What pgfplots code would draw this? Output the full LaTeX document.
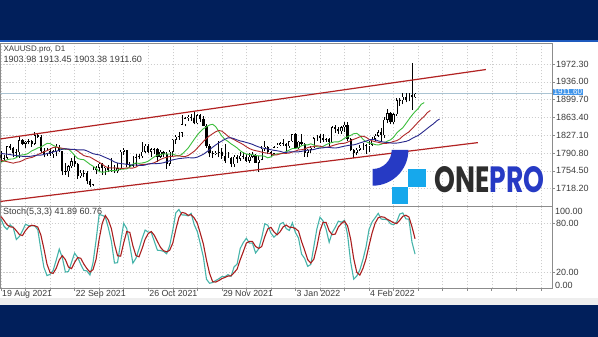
\documentclass[border=0pt]{standalone}
\usepackage{fontspec}
\setmainfont{Liberation Sans}
\newfontfamily\logofont{Poppins}
\usepackage{graphicx}
\usepackage{pgfplots}
\usepackage{pgfplotstable}
\pgfplotsset{compat=1.18}
\definecolor{navy}{RGB}{1,31,91}
\definecolor{topblue}{RGB}{30,90,190}
\definecolor{bandgray}{RGB}{238,238,238}
\definecolor{axisgray}{RGB}{140,140,140}
\definecolor{gridgray}{RGB}{205,205,205}
\definecolor{labelgray}{RGB}{60,60,60}
\definecolor{pricegray}{RGB}{170,195,210}
\definecolor{chanred}{RGB}{178,34,34}
\definecolor{magreen}{RGB}{60,190,60}
\definecolor{mared}{RGB}{175,40,40}
\definecolor{mablue}{RGB}{40,40,140}
\definecolor{stk}{RGB}{70,180,170}
\definecolor{std}{RGB}{170,30,30}
\definecolor{logoblue}{RGB}{38,58,196}
\definecolor{logolight}{RGB}{22,168,236}
\definecolor{logodark}{RGB}{45,45,45}
\definecolor{lblblue}{RGB}{66,150,235}

\pgfplotstableread{
i o h l c
0 1787 1795 1773 1780
1 1780 1786 1774 1781
2 1781 1806 1779 1805
3 1805 1809 1797 1802
4 1802 1803 1782 1790
5 1790 1799 1780 1792
6 1792 1823 1781 1817
7 1817 1820 1807 1810
8 1810 1816 1800 1814
9 1814 1820 1809 1815
10 1815 1817 1804 1810
11 1810 1834 1808 1827
12 1827 1830 1821 1823
13 1823 1827 1791 1794
14 1794 1801 1782 1789
15 1789 1800 1785 1795
16 1795 1800 1785 1788
17 1788 1796 1781 1794
18 1794 1809 1784 1804
19 1804 1808 1792 1794
20 1794 1795 1745 1754
21 1754 1770 1746 1754
22 1754 1767 1742 1764
23 1764 1781 1760 1774
24 1774 1787 1763 1768
25 1768 1771 1737 1743
26 1743 1757 1740 1750
27 1750 1756 1741 1751
28 1751 1754 1727 1734
29 1734 1738 1721 1726
30 1726 1765 1723 1757
31 1757 1765 1747 1761
32 1761 1770 1753 1769
33 1769 1770 1746 1760
34 1760 1765 1746 1763
35 1763 1766 1752 1756
36 1756 1781 1753 1757
37 1757 1766 1750 1754
38 1754 1770 1750 1760
39 1760 1796 1757 1793
40 1793 1800 1787 1797
41 1797 1797 1762 1767
42 1767 1772 1760 1765
43 1765 1785 1763 1769
44 1769 1788 1765 1782
45 1782 1789 1778 1784
46 1784 1813 1781 1793
47 1793 1810 1791 1806
48 1806 1810 1790 1793
49 1793 1801 1783 1798
50 1798 1802 1789 1799
51 1799 1801 1772 1783
52 1783 1797 1781 1793
53 1793 1795 1783 1788
54 1788 1792 1759 1769
55 1769 1797 1764 1793
56 1793 1819 1783 1818
57 1818 1828 1810 1824
58 1824 1834 1818 1832
59 1832 1868 1823 1849
60 1849 1865 1845 1862
61 1862 1868 1856 1865
62 1865 1870 1857 1863
63 1863 1877 1849 1851
64 1851 1870 1850 1868
65 1868 1870 1855 1860
66 1860 1866 1845 1846
67 1846 1849 1802 1805
68 1805 1810 1782 1790
69 1790 1795 1781 1788
70 1788 1795 1786 1791
71 1791 1815 1782 1792
72 1792 1800 1779 1785
73 1785 1809 1770 1774
74 1774 1793 1774 1781
75 1781 1783 1762 1768
76 1768 1787 1762 1783
77 1783 1787 1770 1779
78 1779 1793 1775 1785
79 1785 1793 1778 1783
80 1783 1789 1772 1775
81 1775 1791 1771 1783
82 1783 1792 1780 1787
83 1787 1789 1771 1771
84 1771 1784 1753 1777
85 1777 1805 1776 1799
86 1799 1815 1795 1804
87 1804 1806 1788 1792
88 1792 1794 1782 1789
89 1789 1806 1786 1803
90 1803 1812 1801 1808
91 1808 1814 1805 1811
92 1811 1820 1806 1810
93 1810 1811 1789 1805
94 1805 1816 1801 1815
95 1815 1830 1813 1829
96 1829 1831 1798 1801
97 1801 1815 1799 1814
98 1814 1829 1807 1810
99 1810 1812 1783 1791
100 1791 1798 1782 1797
101 1797 1805 1791 1801
102 1801 1823 1800 1821
103 1821 1828 1816 1826
104 1826 1829 1812 1821
105 1821 1830 1813 1817
106 1817 1822 1813 1819
107 1819 1821 1805 1813
108 1813 1845 1811 1843
109 1843 1847 1832 1839
110 1839 1843 1830 1835
111 1835 1845 1830 1843
112 1843 1853 1834 1848
113 1848 1853 1815 1820
114 1820 1822 1794 1797
115 1797 1798 1780 1791
116 1791 1802 1786 1797
117 1797 1807 1795 1801
118 1801 1812 1797 1808
119 1808 1810 1789 1805
120 1805 1816 1792 1808
121 1808 1823 1806 1820
122 1820 1829 1816 1826
123 1826 1837 1823 1833
124 1833 1841 1814 1827
125 1827 1865 1822 1859
126 1859 1880 1851 1872
127 1872 1874 1849 1854
128 1854 1873 1850 1870
129 1870 1902 1867 1898
130 1898 1902 1887 1898
131 1898 1913 1890 1906
132 1906 1914 1894 1898
133 1898 1913 1896 1910
134 1910 1974 1878 1904
135 1903.98 1913.45 1903.38 1911.6
}\candles

\begin{document}
\begin{tikzpicture}
\useasboundingbox (0pt,0pt) rectangle (598pt,337pt);
\fill[navy] (0pt,0pt) rectangle (598pt,337pt);
\fill[white] (0pt,32pt) rectangle (598pt,295pt);
\fill[bandgray] (0pt,32pt) rectangle (598pt,39pt);
\fill[topblue] (0pt,294.5pt) rectangle (598pt,296.5pt);

% ---------------- price panel ----------------
\begin{axis}[
  at={(0.5pt,130.5pt)}, anchor=south west, scale only axis,
  width=551.5pt, height=163pt,
  xmin=-0.16, xmax=179.65, ymin=1681.7, ymax=2014.1,
  axis line style={draw=axisgray, line width=0.6pt},
  xtick={0,8,...,176}, xticklabels={}, xtick style={draw=none},
  ytick={1718.2,1754.5,1790.8,1827.1,1863.4,1899.7,1936.0,1972.3},
  ytick pos=right, yticklabel pos=right, tick align=outside,
  ytick style={draw=axisgray, line width=0.5pt}, major tick length=2.5pt,
  yticklabel style={font=\fontsize{9}{10}\selectfont, text=labelgray, inner sep=1.5pt},
  scaled y ticks=false,
  yticklabel={\pgfmathprintnumber[fixed,fixed zerofill,precision=2,1000 sep={},assume math mode=true]{\tick}},
  grid=major, major grid style={gridgray, dash pattern=on 1.5pt off 1.5pt, line width=0.4pt},
]
\addplot[pricegray, line width=0.9pt, forget plot] coordinates {(-0.16,1911.6) (179.65,1911.6)};
% wicks
\addplot[draw=none, forget plot, error bars/.cd, y dir=plus, y explicit, error mark=none,
  error bar style={draw=black, line width=0.7pt}]
  table[x=i, y=l, y error plus expr={\thisrow{h}-\thisrow{l}}] {\candles};
% bodies
\addplot[draw=none, forget plot, error bars/.cd, y dir=plus, y explicit, error mark=none,
  error bar style={draw=black, line width=2.2pt}]
  table[x=i, y expr={min(\thisrow{o},\thisrow{c})}, y error plus expr={max(abs(\thisrow{c}-\thisrow{o}),1)}] {\candles};
% hollow (bullish) interiors
\addplot[draw=none, forget plot, error bars/.cd, y dir=plus, y explicit, error mark=none,
  error bar style={draw=white, line width=1.1pt}]
  table[x=i, y expr={\thisrow{o}+1}, y error plus expr={max(\thisrow{c}-\thisrow{o}-2,0)}] {\candles};
% Alligator lips (green)
\addplot[magreen, line width=0.9pt] coordinates {
(0,1772) (1,1774.5) (2,1777) (3,1778.4) (4,1778.7) (5,1781.5) (6,1785.8) (7,1787.1) (8,1787.6) (9,1790.5) (10,1795.1) (11,1797.7) (12,1801.1) (13,1803.0) (14,1806.6) (15,1810.4) (16,1810.1) (17,1806.4) (18,1803.6) (19,1801.4) (20,1798.8) (21,1798.3) (22,1798.6) (23,1792.9) (24,1785.9) (25,1779.6) (26,1777.8) (27,1777.2) (28,1772.6) (29,1767.8) (30,1763.9) (31,1759.2) (32,1753.3) (33,1751.4) (34,1752.3) (35,1754.1) (36,1754.9) (37,1755.0) (38,1755.8) (39,1758.0) (40,1758.0) (41,1758.4) (42,1762.0) (43,1768.3) (44,1770.5) (45,1769.6) (46,1770.5) (47,1771.7) (48,1774.1) (49,1778.6) (50,1783.0) (51,1786.4) (52,1787.5) (53,1789.1) (54,1788.6) (55,1788.7) (56,1788.7) (57,1786.1) (58,1785.0) (59,1788.2) (60,1794.3) (61,1800.7) (62,1809.6) (63,1818.7) (64,1827.4) (65,1834.6) (66,1840.3) (67,1844.2) (68,1847.9) (69,1849.4) (70,1844.6) (71,1834.9) (72,1825.5) (73,1818.5) (74,1814.5) (75,1809.5) (76,1805.5) (77,1801.1) (78,1795.4) (79,1791.2) (80,1788.7) (81,1787.7) (82,1787.3) (83,1785.9) (84,1784.9) (85,1785.1) (86,1784.1) (87,1781.0) (88,1782.9) (89,1787.3) (90,1789.3) (91,1789.0) (92,1790.4) (93,1793.6) (94,1796.8) (95,1800.0) (96,1800.0) (97,1801.7) (98,1805.7) (99,1807.4) (100,1807.3) (101,1809.5) (102,1807.1) (103,1803.7) (104,1802.5) (105,1804.3) (106,1807.8) (107,1810.4) (108,1812.6) (109,1813.6) (110,1813.5) (111,1816.4) (112,1821.0) (113,1824.1) (114,1826.8) (115,1830.1) (116,1830.9) (117,1826.3) (118,1818.9) (119,1813.9) (120,1811.3) (121,1810.0) (122,1807.9) (123,1807.1) (124,1808.6) (125,1811.4) (126,1815.1) (127,1817.6) (128,1822.8) (129,1831.3) (130,1837.3) (131,1842.2) (132,1850.7) (133,1859.4) (134,1867.8) (135,1875.1) (136,1881.0) (137,1890.0) (138,1893.7)};
% Alligator teeth (red)
\addplot[mared, line width=0.9pt] coordinates {
(0,1776) (1,1774.5) (2,1773) (3,1771.5) (4,1770) (5,1771.8) (6,1772.8) (7,1775.3) (8,1778.7) (9,1780.4) (10,1781.6) (11,1784.1) (12,1787.8) (13,1790.3) (14,1793.3) (15,1795.5) (16,1798.7) (17,1802.0) (18,1802.9) (19,1801.5) (20,1800.4) (21,1799.4) (22,1798.0) (23,1797.8) (24,1798.1) (25,1794.6) (26,1790.0) (27,1785.6) (28,1783.7) (29,1782.6) (30,1779.0) (31,1775.2) (32,1771.9) (33,1768.0) (34,1763.2) (35,1760.8) (36,1760.2) (37,1760.4) (38,1760.1) (39,1759.5) (40,1759.4) (41,1760.4) (42,1760.1) (43,1760.1) (44,1762.1) (45,1766.0) (46,1767.7) (47,1767.5) (48,1768.3) (49,1769.3) (50,1771.1) (51,1774.3) (52,1777.6) (53,1780.4) (54,1781.9) (55,1783.6) (56,1784.0) (57,1784.6) (58,1785.1) (59,1783.9) (60,1783.5) (61,1785.7) (62,1789.9) (63,1794.4) (64,1800.8) (65,1807.6) (66,1814.4) (67,1820.5) (68,1825.8) (69,1830.1) (70,1834.1) (71,1836.8) (72,1835.4) (73,1830.5) (74,1825.2) (75,1820.9) (76,1818.1) (77,1814.5) (78,1811.4) (79,1807.9) (80,1803.5) (81,1799.9) (82,1797.2) (83,1795.6) (84,1794.3) (85,1792.6) (86,1791.1) (87,1790.5) (88,1789.2) (89,1786.6) (90,1787.1) (91,1789.3) (92,1790.3) (93,1790.0) (94,1790.8) (95,1792.7) (96,1794.8) (97,1797.1) (98,1797.5) (99,1798.9) (100,1801.7) (101,1803.3) (102,1803.8) (103,1805.6) (104,1804.6) (105,1802.8) (106,1802.2) (107,1803.4) (108,1805.7) (109,1807.5) (110,1809.3) (111,1810.3) (112,1810.6) (113,1812.8) (114,1816.1) (115,1818.7) (116,1821.0) (117,1823.8) (118,1825.1) (119,1823.0) (120,1818.7) (121,1815.6) (122,1813.8) (123,1812.6) (124,1811.0) (125,1810.1) (126,1810.7) (127,1812.2) (128,1814.4) (129,1816.0) (130,1819.4) (131,1825.2) (132,1829.7) (133,1833.7) (134,1840.1) (135,1846.9) (136,1853.7) (137,1860.0) (138,1865.6) (139,1873.1) (140,1877.5)};
% Alligator jaw (blue)
\addplot[mablue, line width=0.9pt] coordinates {
(0,1790) (1,1789) (2,1788.5) (3,1787.5) (4,1786.5) (5,1785.5) (6,1784.8) (7,1784) (8,1784.0) (9,1783.7) (10,1784.4) (11,1785.8) (12,1786.3) (13,1786.5) (14,1787.7) (15,1789.7) (16,1791.1) (17,1792.9) (18,1794.3) (19,1796.3) (20,1798.6) (21,1799.4) (22,1798.8) (23,1798.3) (24,1797.9) (25,1797.2) (26,1797.1) (27,1797.3) (28,1795.2) (29,1792.3) (30,1789.4) (31,1788.0) (32,1787.0) (33,1784.5) (34,1781.7) (35,1779.1) (36,1776.1) (37,1772.5) (38,1770.3) (39,1769.2) (40,1768.6) (41,1767.8) (42,1766.9) (43,1766.3) (44,1766.4) (45,1765.7) (46,1765.3) (47,1766.2) (48,1768.3) (49,1769.1) (50,1768.9) (51,1769.3) (52,1769.8) (53,1770.9) (54,1772.9) (55,1775.0) (56,1776.9) (57,1778.1) (58,1779.4) (59,1780.0) (60,1780.7) (61,1781.3) (62,1780.9) (63,1780.9) (64,1782.4) (65,1785.2) (66,1788.3) (67,1792.7) (68,1797.5) (69,1802.5) (70,1807.2) (71,1811.5) (72,1815.2) (73,1818.8) (74,1821.6) (75,1821.9) (76,1819.9) (77,1817.5) (78,1815.4) (79,1814.1) (80,1812.2) (81,1810.5) (82,1808.4) (83,1805.6) (84,1803.2) (85,1801.3) (86,1800.0) (87,1798.9) (88,1797.5) (89,1796.2) (90,1795.4) (91,1794.2) (92,1792.2) (93,1792.1) (94,1793.1) (95,1793.4) (96,1793.0) (97,1793.2) (98,1794.2) (99,1795.4) (100,1796.8) (101,1797.0) (102,1797.9) (103,1799.7) (104,1800.8) (105,1801.3) (106,1802.6) (107,1802.2) (108,1801.3) (109,1801.0) (110,1801.8) (111,1803.4) (112,1804.7) (113,1806.0) (114,1806.9) (115,1807.4) (116,1809.0) (117,1811.3) (118,1813.2) (119,1815.1) (120,1817.3) (121,1818.6) (122,1817.8) (123,1815.6) (124,1813.9) (125,1812.9) (126,1812.3) (127,1811.3) (128,1810.7) (129,1811.0) (130,1811.9) (131,1813.3) (132,1814.4) (133,1816.6) (134,1820.4) (135,1823.6) (136,1826.5) (137,1831.0) (138,1835.9) (139,1840.9) (140,1845.8) (141,1850.3) (142,1856.1) (143,1860.1)};
% channel
\addplot[chanred, line width=1.2pt] coordinates {(-0.16,1819.5) (158.1,1961)};
\addplot[chanred, line width=1.2pt] coordinates {(-0.16,1692) (155.5,1812)};
\coordinate (lbl) at (axis cs:179.65,1911.6);
\end{axis}
\node[fill=lblblue, text=white, font=\fontsize{8}{9}\selectfont, anchor=west, inner xsep=1.2pt, inner ysep=0.2pt] at ([xshift=0.3pt,yshift=1.6pt]lbl) {1911.60};

% ---------------- stochastic panel ----------------
\begin{axis}[
  at={(0.5pt,48.7pt)}, anchor=south west, scale only axis,
  width=551.5pt, height=81.6pt,
  xmin=-0.16, xmax=179.65, ymin=0, ymax=100,
  axis line style={draw=axisgray, line width=0.6pt},
  xtick={0,8,...,176},
  xticklabels={19 Aug 2021,,,22 Sep 2021,,,26 Oct 2021,,,29 Nov 2021,,,3 Jan 2022,,,4 Feb 2022,,,,,,,},
  xtick pos=left, ytick pos=right, yticklabel pos=right, tick align=outside,
  major tick length=2.5pt,
  tick style={draw=axisgray, line width=0.5pt},
  xticklabel style={anchor=north west, font=\fontsize{8.8}{10}\selectfont, text=labelgray, inner sep=1pt, yshift=1.5pt},
  ytick={20,80},
  yticklabel style={font=\fontsize{9}{10}\selectfont, text=labelgray, inner sep=1.5pt},
  yticklabel={\pgfmathprintnumber[fixed,fixed zerofill,precision=2,assume math mode=true]{\tick}},
  grid=major, major grid style={gridgray, dash pattern=on 1.5pt off 1.5pt, line width=0.4pt},
]
\addplot[stk, line width=1.1pt] coordinates {
(0,85) (1,76) (2,72.2) (3,77.8) (4,74.3) (5,59.8) (6,63.5) (7,70.5) (8,78.5) (9,76.7) (10,76.6) (11,76.5) (12,71.8) (13,47.7) (14,25.6) (15,15.6) (16,17.1) (17,21.9) (18,34.4) (19,48.0) (20,37.5) (21,19.9) (22,20.5) (23,32.0) (24,43.0) (25,37.9) (26,29.4) (27,22.0) (28,21.3) (29,16.3) (30,31.2) (31,58.7) (32,90.5) (33,89.4) (34,87.6) (35,74.2) (36,57.5) (37,30.9) (38,31.4) (39,56.0) (40,79.4) (41,73.3) (42,52.7) (43,30.8) (44,36.8) (45,48.3) (46,60.8) (47,71.4) (48,68.9) (49,68.4) (50,57.4) (51,46.7) (52,46.3) (53,45.3) (54,42.3) (55,52.2) (56,71.0) (57,92.4) (58,96.6) (59,89.9) (60,89.8) (61,88.7) (62,91.8) (63,78.0) (64,69.6) (65,54.4) (66,38.0) (67,11.1) (68,6.2) (69,7.1) (70,9.5) (71,11.6) (72,14.3) (73,14.1) (74,16.7) (75,14.7) (76,26.2) (77,29.9) (78,48.8) (79,56.0) (80,61.3) (81,55.3) (82,55.3) (83,43.3) (84,48.2) (85,61.9) (86,79.1) (87,77.3) (88,67.7) (89,62.6) (90,66.4) (91,78.8) (92,80.6) (93,73.1) (94,70.9) (95,80.2) (96,68.4) (97,61.6) (98,41.9) (99,36.6) (100,26.9) (101,29.2) (102,51.0) (103,72.9) (104,87.1) (105,82.6) (106,72.4) (107,56.4) (108,68.4) (109,74.8) (110,82.3) (111,81.0) (112,83.3) (113,65.6) (114,32.4) (115,11.2) (116,15.1) (117,22.4) (118,35.1) (119,50.3) (120,72.1) (121,81.3) (122,86.5) (123,91.8) (124,84.7) (125,84.6) (126,83.9) (127,79.1) (128,77.8) (129,81.1) (130,91.0) (131,92.4) (132,85.1) (133,84.6) (134,56.5) (135,41.89)};
\addplot[std, line width=1.1pt] coordinates {
(0,88) (1,83) (2,77.7) (3,75.3) (4,74.8) (5,70.6) (6,65.9) (7,64.6) (8,70.8) (9,75.2) (10,77.3) (11,76.6) (12,75.0) (13,65.3) (14,48.4) (15,29.6) (16,19.4) (17,18.2) (18,24.5) (19,34.8) (20,40.0) (21,35.1) (22,26.0) (23,24.1) (24,31.8) (25,37.6) (26,36.8) (27,29.8) (28,24.2) (29,19.9) (30,22.9) (31,35.4) (32,60.1) (33,79.5) (34,89.2) (35,83.7) (36,73.1) (37,54.2) (38,39.9) (39,39.4) (40,55.6) (41,69.6) (42,68.5) (43,52.3) (44,40.1) (45,38.6) (46,48.6) (47,60.2) (48,67.0) (49,69.6) (50,64.9) (51,57.5) (52,50.1) (53,46.1) (54,44.6) (55,46.6) (56,55.2) (57,71.9) (58,86.7) (59,93.0) (60,92.1) (61,89.5) (62,90.1) (63,86.2) (64,79.8) (65,67.3) (66,54.0) (67,34.5) (68,18.4) (69,8.1) (70,7.6) (71,9.4) (72,11.8) (73,13.3) (74,15.0) (75,15.2) (76,19.2) (77,23.6) (78,35.0) (79,44.9) (80,55.4) (81,57.5) (82,57.3) (83,51.3) (84,48.9) (85,51.1) (86,63.1) (87,72.8) (88,74.7) (89,69.2) (90,65.6) (91,69.3) (92,75.3) (93,77.5) (94,74.9) (95,74.7) (96,73.2) (97,70.1) (98,57.3) (99,46.7) (100,35.1) (101,30.9) (102,35.7) (103,51.0) (104,70.3) (105,80.9) (106,80.7) (107,70.5) (108,65.7) (109,66.5) (110,75.2) (111,79.4) (112,82.2) (113,76.6) (114,60.4) (115,36.4) (116,19.6) (117,16.2) (118,24.2) (119,35.9) (120,52.5) (121,67.9) (122,80.0) (123,86.5) (124,87.7) (125,87.0) (126,84.4) (127,82.5) (128,80.3) (129,79.3) (130,83.3) (131,88.2) (132,89.5) (133,87.4) (134,75.4) (135,60.76)};
\end{axis}

% labels and header texts
\node[anchor=west, inner sep=0pt, font=\fontsize{9}{10}\selectfont, text=labelgray] at (555pt,126pt) {100.00};
\node[anchor=west, inner sep=0pt, font=\fontsize{9}{10}\selectfont, text=labelgray] at (555pt,52pt) {0.00};
\node[anchor=west, inner sep=0pt, font=\fontsize{8}{9}\selectfont, text=labelgray] at (3.3pt,287pt) {XAUUSD.pro, D1};
\node[anchor=west, inner sep=0pt, font=\fontsize{9.1}{10}\selectfont, text=labelgray] at (3.3pt,278pt) {1903.98 1913.45 1903.38 1911.60};
\node[anchor=west, inner sep=0pt, font=\fontsize{9}{10}\selectfont, text=labelgray] at (3pt,125pt) {Stoch(5,3,3) 41.89 60.76};

% logo
\fill[logoblue] (391.7pt,187pt) -- (408.4pt,187pt) arc[start angle=0, end angle=-90, radius=35.7pt] -- (372.7pt,168pt) arc[start angle=-90, end angle=0, radius=19pt] -- cycle;
\fill[logolight] (408.3pt,150.3pt) rectangle (426pt,167.7pt);
\fill[logolight] (391.7pt,133pt) rectangle (408.3pt,150.3pt);
\node[anchor=south west, inner sep=0pt] at (434pt,144pt) {\resizebox{110pt}{26pt}{\logofont\bfseries\textcolor{logodark}{ONE}\textcolor{logoblue}{PRO}}};
\end{tikzpicture}
\end{document}
